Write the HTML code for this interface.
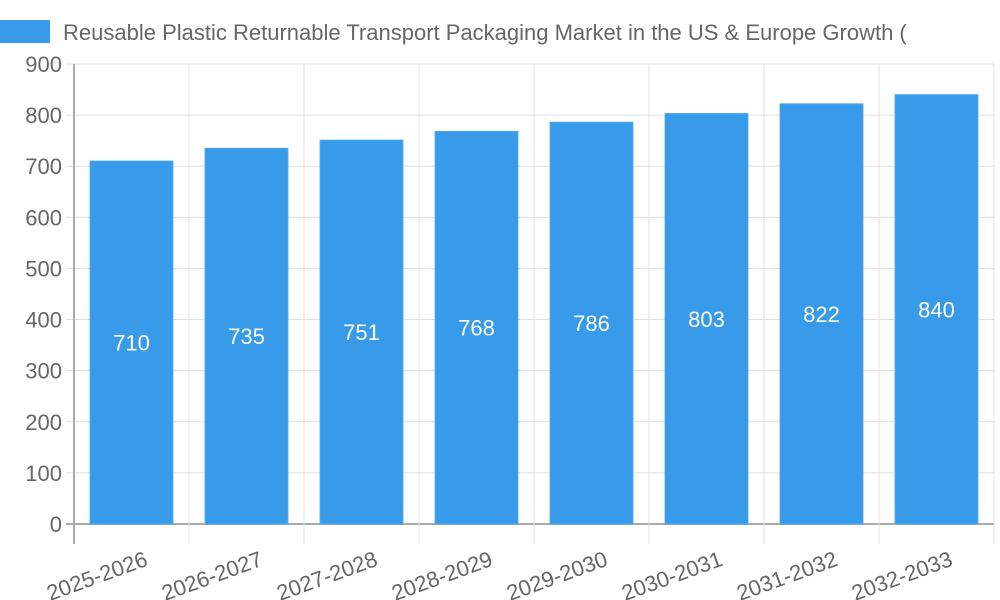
<!DOCTYPE html>
<html><head><meta charset="utf-8"><style>
html,body{margin:0;padding:0;background:#fff;width:1000px;height:600px;overflow:hidden}
svg text{font-family:"Liberation Sans",Arial,sans-serif}
</style></head><body>
<svg id="chart" width="1000" height="600" xmlns="http://www.w3.org/2000/svg">
<rect x="0" y="20" width="50" height="23" fill="#379be9"/>
<text x="63" y="40" font-size="22" fill="#666">Reusable Plastic Returnable Transport Packaging Market in the US &amp; Europe Growth (</text>
<g id="grid"></g><g id="bars"></g><g id="labels"></g>
</svg>
<script>
const categories=["2025-2026","2026-2027","2027-2028","2028-2029","2029-2030","2030-2031","2031-2032","2032-2033"];
const values=[710,735,751,768,786,803,822,840];
const yTicks=[0,100,200,300,400,500,600,700,800,900];
const L=74,R=994,T=64,B=524,YMAX=900;
const step=(R-L)/categories.length;
function y(v){return B-(v/YMAX)*(B-T);}
function x(i){return L+i*step;}
const NS="http://www.w3.org/2000/svg";
function mk(tag,attrs,parent){const e=document.createElementNS(NS,tag);for(const k in attrs)e.setAttribute(k,attrs[k]);parent.appendChild(e);return e;}
const grid=document.getElementById('grid'),bars=document.getElementById('bars'),labels=document.getElementById('labels');
yTicks.forEach(t=>{
  const ln=mk('line',{x1:L-8,x2:R,y1:y(t),y2:y(t),stroke:t===0?'#aaa':'#e0e0e0','stroke-width':t===0?2:1},grid);
  
  
  const tx=mk('text',{x:L-12,y:y(t)+8,'text-anchor':'end','font-size':22,fill:'#666'},grid);
  tx.textContent=t;
  
  
});
for(let i=0;i<=categories.length;i++){
  const ln=mk('line',{x1:x(i),x2:x(i),y1:T,y2:B+20,stroke:i===0?'#aaa':'#e0e0e0','stroke-width':i===0?2:1},grid);
  
  
}
values.forEach((v,i)=>{
  const bw=step*0.72,bx=x(i)+(step-bw)/2;
  const r=mk('rect',{x:bx,y:y(v),width:bw,height:B-y(v),fill:'#379be9',stroke:'#4aa6ee','stroke-width':1},bars);
  
  
  const vt=mk('text',{x:bx+bw/2,y:(y(v)+B)/2+8,'text-anchor':'middle','font-size':22,fill:'#fff'},labels);
  vt.textContent=v;
  
  
  const cx=x(i)+step/2+12,cy=B+26;
  const ct=mk('text',{x:cx,y:cy,'text-anchor':'end','font-size':22,fill:'#666',transform:`rotate(-20 ${cx} ${cy})`,'dominant-baseline':'hanging'},labels);
  ct.textContent=categories[i];
  
  
});
</script>
</body></html>
